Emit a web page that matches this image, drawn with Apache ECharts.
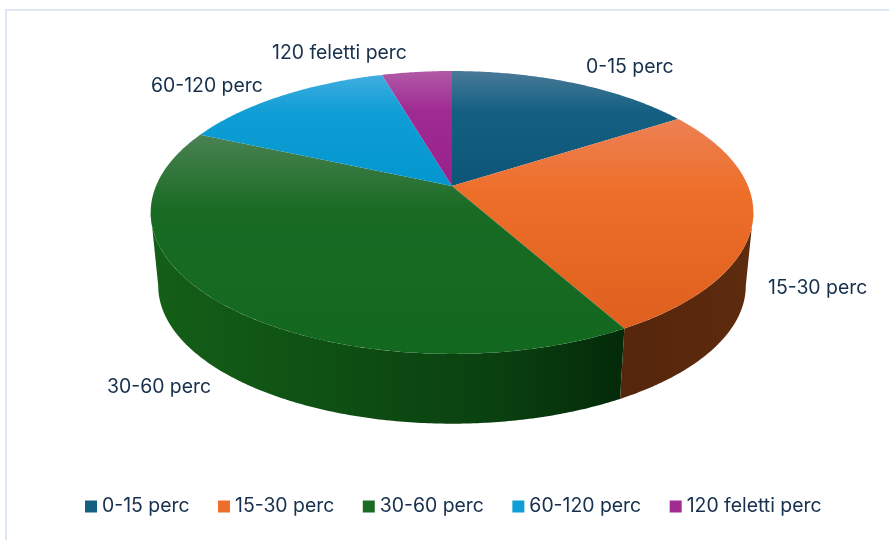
<!DOCTYPE html>
<html>
<head>
<meta charset="utf-8">
<style>html,body{margin:0;padding:0;background:#fff}#c{width:889px;height:540px}</style>
<script src="https://cdn.jsdelivr.net/npm/echarts@6/dist/echarts.min.js"></script>
</head>
<body>
<div id="c"></div>
<script>
var categories = ['0-15 perc', '15-30 perc', '30-60 perc', '60-120 perc', '120 feletti perc'];
var values = [15.9, 26.0, 39.7, 13.9, 4.5];
var baseColors = ['#156082', '#EE6F2A', '#196B24', '#0F9ED5', '#A02B93'];
var lightColors = ['#4A7A97', '#EC8054', '#4A8252', '#40ADE0', '#B05AA6'];
var darkColors = ['#0C5578', '#DF601E', '#12681E', '#0396CF', '#98208B'];
var wallStops = [
  [],
  [[0, '#55260C'], [1, '#5E2B0E']],
  [[0, '#145F18'], [0.4, '#0E4F13'], [0.75, '#0A3F10'], [1, '#032A09']],
  [], []
];
var labelSpots = [[586, 67], [768, 288], [107, 387], [151, 86], [272, 53]];

var FONT = 'Inter, "Open Sans", sans-serif';
var FONT_SIZE = 19.4;
var INK = '#17304D';
var CX = 452, CY = 186, A = 296, B = 136.5, K = 0.187;
var BOTTOM_SCALE = 0.975, BOTTOM_CY = 260;
var total = values.reduce(function (s, v) { return s + v; }, 0);
var TANGENT = Math.acos(-K);

function project(theta, bottom) {
  var u = Math.sin(theta), v = -Math.cos(theta), w = 1 - K * v;
  var s = bottom ? BOTTOM_SCALE : 1;
  return [CX + s * A * u / w, (bottom ? BOTTOM_CY : CY) + s * B * v / w];
}
function arc(a0, a1, bottom) {
  var pts = [], n = Math.max(2, Math.ceil((a1 - a0) / 0.01));
  for (var i = 0; i <= n; i++) pts.push(project(a0 + (a1 - a0) * i / n, bottom));
  return pts;
}
function makeRender(idx) {
  var before = 0;
  for (var i = 0; i < idx; i++) before += values[i];
  return function (params, api) {
    var a0 = before / total * 2 * Math.PI;
    var a1 = (before + api.value(0)) / total * 2 * Math.PI;
    var children = [];
    var w0 = Math.max(a0, TANGENT), w1 = Math.min(a1, 2 * Math.PI - TANGENT);
    if (w1 > w0 && wallStops[idx].length) {
      var wallPts = arc(w0, w1, false).concat(arc(w0, w1, true).reverse());
      children.push({
        type: 'polygon', z2: 1,
        shape: { points: wallPts },
        style: { fill: new echarts.graphic.LinearGradient(0, 0, 1, 0, wallStops[idx].map(function (s) {
          return { offset: s[0], color: s[1] };
        })) }
      });
    }
    var topPts = [[CX, CY]].concat(arc(a0, a1, false));
    children.push({
      type: 'polygon', z2: 10,
      shape: { points: topPts },
      style: { fill: new echarts.graphic.LinearGradient(0, 0, 0, 1, [
        { offset: 0, color: lightColors[idx] },
        { offset: 0.34, color: baseColors[idx] },
        { offset: 1, color: darkColors[idx] }
      ]) }
    });
    return { type: 'group', children: children };
  };
}

var chart = echarts.init(document.getElementById('c'), null, { renderer: 'canvas' });
chart.setOption({
  animation: false,
  backgroundColor: '#ffffff',
  legend: {
    data: categories,
    left: 85, top: 497,
    itemWidth: 12, itemHeight: 12, itemGap: 28.5,
    icon: 'rect',
    textStyle: { fontFamily: FONT, fontSize: FONT_SIZE, color: INK, padding: [0, 0, 0, 0] },
    selectedMode: false,
    padding: 0
  },
  graphic: [
    { type: 'rect', silent: true, shape: { x: 6, y: 10, width: 1000, height: 800 },
      style: { fill: 'none', stroke: '#DCE7F3', lineWidth: 2 } }
  ].concat(categories.map(function (name, i) {
    return { type: 'text', silent: true, x: labelSpots[i][0], y: labelSpots[i][1],
      style: { text: name, font: FONT_SIZE + 'px ' + FONT, fill: INK, textAlign: 'left', textVerticalAlign: 'middle' } };
  })),
  series: categories.map(function (name, i) {
    return {
      type: 'custom', name: name, coordinateSystem: 'none', silent: true,
      itemStyle: { color: baseColors[i] },
      renderItem: makeRender(i),
      data: [[values[i]]]
    };
  })
});
</script>
</body>
</html>
